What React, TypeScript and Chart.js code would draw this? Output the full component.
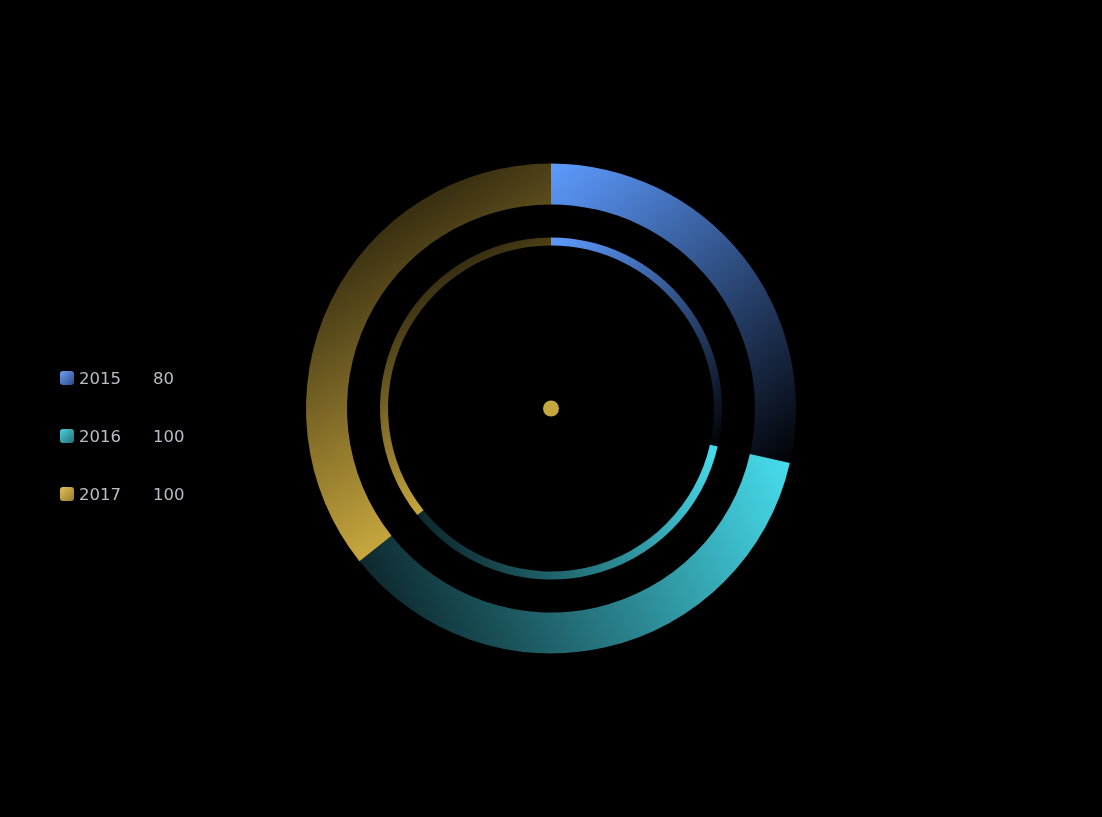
import React, { useEffect, useRef } from 'react';
import { Chart, registerables } from 'chart.js';

Chart.register(...registerables);

// ---- data ----
const categories = ['2015', '2016', '2017'];
const values = [80, 100, 100];

// ---- styles ----
// gradient direction in the arc's bounding box: [x0, y0, x1, y1] as fractions
const gradientDirs = [
  [0, 0, 1, 1],
  [1, 0, 0, 1],
  [0, 0, 1, 1],
];
const gradientStops = [
  ['rgb(93,155,255)', 'rgb(0,0,2)'],
  ['rgb(71,222,238)', 'rgb(8,24,28)'],
  ['rgb(8,6,2)', 'rgb(252,211,78)'],
];
const fallbackColors = ['rgb(93,155,255)', 'rgb(71,222,238)', 'rgb(200,168,62)'];
const legendIcons = [
  'linear-gradient(135deg, #6f9ff0 0%, #2c4a8c 100%)',
  'linear-gradient(135deg, #4fd2dc 0%, #1f6f78 100%)',
  'linear-gradient(135deg, #e0c05a 0%, #9a7c2a 100%)',
];

function arcBBox(el: any) {
  const { x, y, startAngle, endAngle, innerRadius, outerRadius } = el;
  const pts: number[][] = [];
  const add = (a: number, r: number) => pts.push([x + r * Math.cos(a), y + r * Math.sin(a)]);
  add(startAngle, outerRadius);
  add(startAngle, innerRadius);
  add(endAngle, outerRadius);
  add(endAngle, innerRadius);
  for (let k = -4; k <= 8; k++) {
    const a = (k * Math.PI) / 2;
    if (a > startAngle && a < endAngle) add(a, outerRadius);
  }
  let minX = Infinity, minY = Infinity, maxX = -Infinity, maxY = -Infinity;
  for (const [px, py] of pts) {
    minX = Math.min(minX, px); maxX = Math.max(maxX, px);
    minY = Math.min(minY, py); maxY = Math.max(maxY, py);
  }
  return { minX, minY, maxX, maxY };
}

function arcGradient(ctx: any) {
  const el = ctx.element;
  const i = ctx.dataIndex;
  if (!el || el.outerRadius == null || el.x == null || !isFinite(el.startAngle)) return fallbackColors[i];
  const b = arcBBox(el);
  const w = b.maxX - b.minX, h = b.maxY - b.minY;
  const d = gradientDirs[i];
  const g = ctx.chart.ctx.createLinearGradient(
    b.minX + d[0] * w, b.minY + d[1] * h, b.minX + d[2] * w, b.minY + d[3] * h
  );
  g.addColorStop(0, gradientStops[i][0]);
  g.addColorStop(1, gradientStops[i][1]);
  return g;
}

const centerDot = {
  id: 'centerDot',
  afterDatasetsDraw(chart: any) {
    const arc = chart.getDatasetMeta(0).data[0];
    if (!arc) return;
    const c = chart.ctx;
    c.save();
    c.beginPath();
    c.arc(arc.x, arc.y, 8, 0, Math.PI * 2);
    c.fillStyle = '#c4a73e';
    c.fill();
    c.restore();
  },
};

export default function App() {
  const ref = useRef<HTMLCanvasElement>(null);

  useEffect(() => {
    if (!ref.current) return;
    const chart = new Chart(ref.current, {
      type: 'doughnut',
      data: {
        labels: categories,
        datasets: [
          {
            data: values,
            backgroundColor: arcGradient,
            borderWidth: 0,
            radius: 245,
            cutout: (163 / 245) * 100 + '%',
            weight: 1,
          } as any,
          {
            data: values,
            backgroundColor: arcGradient,
            borderWidth: 0,
            radius: 179,
            cutout: (163 / 179) * 100 + '%',
            weight: 1,
          } as any,
        ],
      },
      options: {
        responsive: false,
        animation: false,
        layout: { padding: 0 },
        plugins: {
          legend: { display: false },
          tooltip: { enabled: false },
        },
      },
      plugins: [centerDot],
    });
    chart.update();
    return () => chart.destroy();
  }, []);

  return (
    <div
      style={{
        position: 'fixed',
        left: 0,
        top: 0,
        width: 1102,
        height: 817,
        background: '#000',
        overflow: 'hidden',
      }}
    >
      <canvas ref={ref} width={1102} height={817} style={{ display: 'block' }} />
      <div
        style={{
          position: 'absolute',
          left: 60,
          top: 349,
          fontFamily: '"DejaVu Sans", sans-serif',
          fontSize: 16.5,
          color: '#babdc7',
        }}
      >
        {categories.map((c, i) => (
          <div key={c} style={{ display: 'flex', alignItems: 'center', height: 58 }}>
            <div
              style={{
                width: 14,
                height: 14,
                borderRadius: 3,
                background: legendIcons[i],
                marginRight: 5,
              }}
            />
            <span style={{ width: 74, display: 'inline-block' }}>{c}</span>
            <span>{values[i]}</span>
          </div>
        ))}
      </div>
    </div>
  );
}
